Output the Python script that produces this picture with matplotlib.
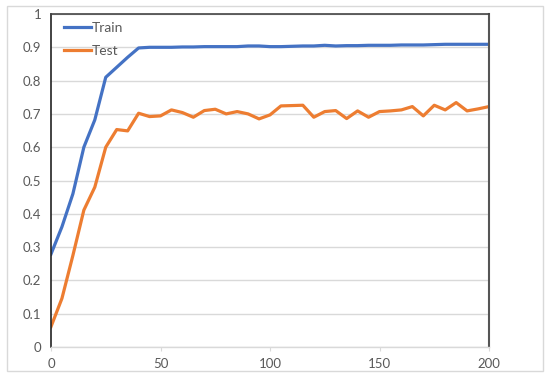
import matplotlib
matplotlib.use("Agg")
import matplotlib.pyplot as plt
from matplotlib.patches import Rectangle
from matplotlib.ticker import FuncFormatter

# puntos cada 5 unidades
x_vals = list(range(0, 205, 5))
train = [0.279, 0.361, 0.46, 0.60, 0.682, 0.81, 0.84, 0.87, 0.898, 0.90,
         0.90, 0.90, 0.901, 0.901, 0.902, 0.902, 0.902, 0.902, 0.904, 0.904,
         0.902, 0.902, 0.903, 0.904, 0.904, 0.906, 0.904, 0.905, 0.905, 0.906,
         0.906, 0.906, 0.907, 0.907, 0.907, 0.908, 0.909, 0.909, 0.909, 0.909,
         0.909]
test = [0.061, 0.146, 0.275, 0.411, 0.48, 0.60, 0.653, 0.649, 0.702, 0.692,
        0.694, 0.712, 0.704, 0.69, 0.71, 0.714, 0.70, 0.707, 0.70, 0.685,
        0.697, 0.724, 0.725, 0.726, 0.69, 0.707, 0.71, 0.686, 0.709, 0.69,
        0.707, 0.709, 0.712, 0.722, 0.694, 0.726, 0.712, 0.734, 0.709, 0.715,
        0.722]
x_ticks = [0, 50, 100, 150, 200]
y_ticks = [0, 0.1, 0.2, 0.3, 0.4, 0.5, 0.6, 0.7, 0.8, 0.9, 1.0]

plt.rcParams["font.family"] = ["Lato", "DejaVu Sans"]
grey_text = "#595959"
grid_col = "#d9d9d9"

fig = plt.figure(figsize=(5.5, 3.77), dpi=100)
ax = fig.add_axes([51 / 550, 30 / 377, 438 / 550, 333 / 377])

# marco exterior
fig.patches.append(Rectangle((7 / 550, 6 / 377), 536 / 550, 365 / 377,
                             transform=fig.transFigure, fill=False,
                             edgecolor="#d9d9d9", linewidth=1.0))

ax.plot(x_vals, train, color="#4472C4", linewidth=2.3, label="Train",
        solid_joinstyle="round")
ax.plot(x_vals, test, color="#ED7D31", linewidth=2.3, label="Test",
        solid_joinstyle="round")

ax.set_xlim(0, 200)
ax.set_ylim(0, 1)
ax.set_xticks(x_ticks)
ax.set_yticks(y_ticks)
ax.yaxis.set_major_formatter(FuncFormatter(lambda v, p: f"{v:g}"))
ax.grid(True, axis="y", color=grid_col, linewidth=1.0)
ax.set_axisbelow(True)

ax.spines["left"].set_color("#222222")
ax.spines["left"].set_linewidth(1.2)
ax.spines["top"].set_color("#444444")
ax.spines["top"].set_linewidth(1.2)
ax.spines["right"].set_color("#555555")
ax.spines["right"].set_linewidth(1.5)
ax.spines["bottom"].set_color(grid_col)
ax.spines["bottom"].set_linewidth(1.0)

ax.tick_params(axis="y", length=0, pad=7, labelsize=9.5, labelcolor=grey_text)
ax.tick_params(axis="x", length=3, color=grid_col, pad=5, labelsize=9.5,
               labelcolor=grey_text)

leg = ax.legend(loc="upper left", frameon=False, fontsize=10,
                handlelength=2.0, handletextpad=0.0, labelspacing=0.85,
                bbox_to_anchor=(0.0, 1.015), labelcolor=grey_text)

fig.savefig("out.png", dpi=100)
